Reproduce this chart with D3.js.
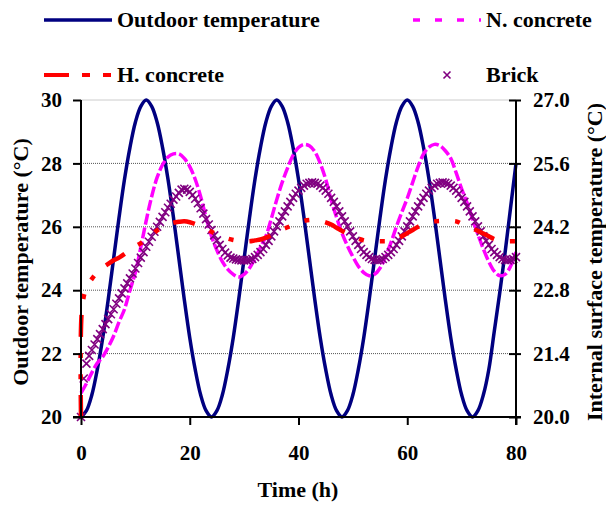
<!DOCTYPE html>
<html>
<head>
<meta charset="utf-8">
<script src="https://cdn.jsdelivr.net/npm/d3@7/dist/d3.min.js"></script>
<style>
  html, body { margin: 0; padding: 0; background: #fff; }
  svg text { font-family: "Liberation Serif", "Times New Roman", serif; font-weight: bold; fill: #000; }
</style>
</head>
<body>
<svg id="chart" width="606" height="506"></svg>
<script>
// ---------------- DATA ----------------
const xTicks = [0, 20, 40, 60, 80];
const leftTicks = [20, 22, 24, 26, 28, 30];
const rightTicks = [20.0, 21.4, 22.8, 24.2, 25.6, 27.0];

const seriesNames = ["Outdoor temperature", "N. concrete", "H. concrete", "Brick"];

// hourly time (h) for outdoor and N. concrete
const hours = d3.range(0, 81);

// Outdoor temperature (°C, left axis), hourly 0..80
const outdoor = [
  20.0, 20.2, 20.7, 21.5, 22.5, 23.7, 25.0, 26.3, 27.5, 28.5, 29.3, 29.8,
  30.0, 29.8, 29.3, 28.5, 27.5, 26.3, 25.0, 23.7, 22.5, 21.5, 20.7, 20.2,
  20.0, 20.2, 20.7, 21.5, 22.5, 23.7, 25.0, 26.3, 27.5, 28.5, 29.3, 29.8,
  30.0, 29.8, 29.3, 28.5, 27.5, 26.3, 25.0, 23.7, 22.5, 21.5, 20.7, 20.2,
  20.0, 20.2, 20.7, 21.5, 22.5, 23.7, 25.0, 26.3, 27.5, 28.5, 29.3, 29.8,
  30.0, 29.8, 29.3, 28.5, 27.5, 26.3, 25.0, 23.7, 22.5, 21.5, 20.7, 20.2,
  20.0, 20.2, 20.7, 21.5, 22.7, 23.9, 25.2, 26.6, 28.0
];

// N. concrete (°C, right axis), hourly 0..80
const nConcrete = [
  20.53, 20.74, 20.98, 21.19, 21.33, 21.54, 21.79, 22.10, 22.38, 22.80,
  23.19, 23.75, 24.34, 24.87, 25.29, 25.57, 25.74, 25.81, 25.81, 25.71,
  25.53, 25.25, 24.87, 24.41, 23.99, 23.68, 23.43, 23.26, 23.15, 23.09,
  23.15, 23.29, 23.50, 23.75, 23.99, 24.38, 24.80, 25.18, 25.50, 25.78,
  25.95, 26.02, 25.99, 25.86, 25.60, 25.25, 24.80, 24.41, 24.06, 23.78,
  23.54, 23.33, 23.19, 23.12, 23.15, 23.29, 23.54, 23.85, 24.20, 24.52,
  24.83, 25.18, 25.53, 25.81, 25.96, 26.02, 25.99, 25.88, 25.71, 25.39,
  25.04, 24.73, 24.38, 24.03, 23.71, 23.43, 23.22, 23.12, 23.15, 23.33,
  23.64
];

// H. concrete (°C, right axis)
const hTimes = [0, 0.2].concat(d3.range(1, 81));
const hConcrete = [
  20.00, 22.42,
  22.86, 23.05, 23.20, 23.30, 23.38, 23.46, 23.52, 23.60, 23.69, 23.77,
  23.84, 23.92, 24.01, 24.12, 24.19, 24.25, 24.29, 24.31, 24.32, 24.30,
  24.26, 24.21, 24.15, 24.09, 24.03, 23.98, 23.94, 23.91, 23.89, 23.88,
  23.88, 23.90, 23.92, 23.96, 24.02, 24.08, 24.14, 24.19, 24.24, 24.29,
  24.33, 24.35, 24.35, 24.33, 24.30, 24.25, 24.18, 24.11, 24.05, 23.99,
  23.94, 23.90, 23.88, 23.88, 23.88, 23.88, 23.88, 23.92, 23.99, 24.06,
  24.13, 24.20, 24.26, 24.30, 24.32, 24.33, 24.33, 24.33, 24.32, 24.27,
  24.22, 24.16, 24.11, 24.05, 23.99, 23.93, 23.90, 23.88, 23.88, 23.88
];

// Brick (°C, right axis), every 0.5 h from 0 to 80
const brickTimes = d3.range(0, 80.01, 0.5);
const brick = [
  20.00, 20.85, 21.18, 21.35, 21.48, 21.60, 21.72, 21.83, 21.94, 22.05,
  22.16, 22.27, 22.38, 22.50, 22.62, 22.73, 22.84, 22.95, 23.06, 23.17,
  23.28, 23.40, 23.52, 23.64, 23.76, 23.87, 23.98, 24.09, 24.20, 24.31,
  24.42, 24.52, 24.62, 24.71, 24.80, 24.87, 24.95, 25.02, 25.04, 25.02,
  24.97, 24.90, 24.82, 24.72, 24.61, 24.49, 24.37, 24.25, 24.13, 24.01,
  23.90, 23.80, 23.71, 23.63, 23.57, 23.52, 23.50, 23.48, 23.47, 23.46,
  23.46,
  23.46, 23.47, 23.49, 23.53, 23.58, 23.64, 23.71, 23.80, 23.89, 23.99,
  24.10, 24.21, 24.32, 24.43, 24.54, 24.65, 24.75, 24.84, 24.93, 25.00,
  25.06, 25.11, 25.15, 25.17, 25.18, 25.17, 25.15, 25.11, 25.06, 25.00,
  24.93, 24.84, 24.75, 24.65, 24.54, 24.43, 24.32, 24.21, 24.10, 23.99,
  23.89, 23.80, 23.71, 23.64, 23.58, 23.53, 23.49, 23.47,
  23.46, 23.47, 23.49, 23.53, 23.58, 23.64, 23.71, 23.80, 23.89, 23.99,
  24.10, 24.21, 24.32, 24.43, 24.54, 24.65, 24.75, 24.84, 24.93, 25.00,
  25.06, 25.11, 25.15, 25.17, 25.18, 25.17, 25.15, 25.11, 25.06, 25.00,
  24.93, 24.84, 24.75, 24.65, 24.54, 24.43, 24.32, 24.21, 24.10, 23.99,
  23.89, 23.80, 23.71, 23.64, 23.58, 23.53, 23.49, 23.47,
  23.46, 23.47, 23.49, 23.53
];

if (outdoor.length !== hours.length) throw new Error("outdoor len " + outdoor.length);
if (nConcrete.length !== hours.length) throw new Error("n len " + nConcrete.length);
if (hConcrete.length !== hTimes.length) throw new Error("h len " + hConcrete.length);
if (brick.length !== brickTimes.length) throw new Error("brick len " + brick.length + " vs " + brickTimes.length);

// ---------------- CHART ----------------
const svg = d3.select("#chart");
const x = d3.scaleLinear().domain([0, 80]).range([81, 516]);
const yL = d3.scaleLinear().domain([20, 30]).range([417, 100]);
const yR = d3.scaleLinear().domain([20, 27]).range([417, 100]);

// gridlines
svg.append("g").selectAll("line")
  .data([22, 24, 26, 28]).join("line")
  .attr("x1", x(0)).attr("x2", x(80))
  .attr("y1", d => yL(d)).attr("y2", d => yL(d))
  .attr("stroke", "#555").attr("stroke-width", 1).attr("stroke-dasharray", "1,1");
svg.append("line")
  .attr("x1", x(0)).attr("x2", x(80))
  .attr("y1", yL(30)).attr("y2", yL(30))
  .attr("stroke", "#ccc").attr("stroke-width", 1);

// series
const line = (xs, ys, yScale) => d3.line()
  .x((d, i) => x(xs[i])).y(d => yScale(d))
  .curve(d3.curveCatmullRom.alpha(0.5))(ys);

svg.append("path").attr("d", line(hours, outdoor, yL))
  .attr("fill", "none").attr("stroke", "#000080").attr("stroke-width", 3.5)
  .attr("stroke-linejoin", "round");

svg.append("path").attr("d", line(hours, nConcrete, yR))
  .attr("fill", "none").attr("stroke", "#ff00ff").attr("stroke-width", 3.5)
  .attr("stroke-dasharray", "11,3");

svg.append("g").selectAll("path")
  .data(brick).join("path")
  .attr("transform", (d, i) => `translate(${x(brickTimes[i])},${yR(d)})`)
  .attr("d", "M-4,-4L4,4M-4,4L4,-4")
  .attr("stroke", "#800080").attr("stroke-width", 1.6).attr("fill", "none");

svg.append("path").attr("d", line(hTimes, hConcrete, yR))
  .attr("fill", "none").attr("stroke", "#ff0000").attr("stroke-width", 4.5)
  .attr("stroke-dasharray", "22,16,5,16,5,16");

// axes
const fmtInt = d3.format("d");
const fmt1 = d3.format(".1f");

const gL = svg.append("g").attr("transform", `translate(${x(0)},0)`)
  .call(d3.axisLeft(yL).tickValues(leftTicks).tickSize(8).tickPadding(11).tickFormat(fmtInt));
const gR = svg.append("g").attr("transform", `translate(${x(80)},0)`)
  .call(d3.axisRight(yR).tickValues(rightTicks).tickSize(5).tickPadding(12).tickFormat(fmt1));
gR.selectAll(".tick line").attr("x1", -7);
const gB = svg.append("g").attr("transform", `translate(0,${yL(20)})`)
  .call(d3.axisBottom(x).tickValues(xTicks).tickSize(8).tickPadding(20).tickFormat(fmtInt));

[gL, gR, gB].forEach(g => {
  g.select(".domain").remove();
  g.selectAll(".tick line").attr("stroke", "#000").attr("stroke-width", 2);
  g.selectAll("text").attr("font-size", 21).attr("font-family", "Liberation Serif, serif").attr("font-weight", "bold");
});
// axis lines
svg.append("line").attr("x1", x(0)).attr("x2", x(0)).attr("y1", yL(30)).attr("y2", yL(20) + 1)
  .attr("stroke", "#000").attr("stroke-width", 2);
svg.append("line").attr("x1", x(80)).attr("x2", x(80)).attr("y1", yL(30)).attr("y2", yL(20) + 8)
  .attr("stroke", "#000").attr("stroke-width", 2);
svg.append("line").attr("x1", x(0) - 8).attr("x2", x(80) + 5).attr("y1", yL(20)).attr("y2", yL(20))
  .attr("stroke", "#000").attr("stroke-width", 2);

// axis titles
svg.append("text").attr("transform", "translate(28,262) rotate(-90)")
  .attr("text-anchor", "middle").attr("font-size", 22).text("Outdoor temperature (°C)");
svg.append("text").attr("transform", "translate(602,262) rotate(-90)")
  .attr("text-anchor", "middle").attr("font-size", 22).text("Internal surface temperature (°C)");
svg.append("text").attr("x", 298).attr("y", 497)
  .attr("text-anchor", "middle").attr("font-size", 22).text("Time (h)");

// legend
const lg = svg.append("g");
lg.append("line").attr("x1", 44).attr("x2", 112).attr("y1", 20).attr("y2", 20)
  .attr("stroke", "#000080").attr("stroke-width", 3.5);
lg.append("text").attr("x", 117).attr("y", 27).attr("font-size", 22).text(seriesNames[0]);

lg.append("line").attr("x1", 413).attr("x2", 481).attr("y1", 20).attr("y2", 20)
  .attr("stroke", "#ff00ff").attr("stroke-width", 3.5).attr("stroke-dasharray", "7,15");
lg.append("text").attr("x", 486).attr("y", 27).attr("font-size", 22).text(seriesNames[1]);

lg.append("line").attr("x1", 44).attr("x2", 113).attr("y1", 75).attr("y2", 75)
  .attr("stroke", "#ff0000").attr("stroke-width", 4).attr("stroke-dasharray", "25,13,8,13,8,13");
lg.append("text").attr("x", 117).attr("y", 82).attr("font-size", 22).text(seriesNames[2]);

lg.append("path").attr("transform", "translate(447,75)")
  .attr("d", "M-3.5,-3.5L3.5,3.5M-3.5,3.5L3.5,-3.5")
  .attr("stroke", "#800080").attr("stroke-width", 1.6).attr("fill", "none");
lg.append("text").attr("x", 486).attr("y", 82).attr("font-size", 22).text(seriesNames[3]);
</script>
</body>
</html>
